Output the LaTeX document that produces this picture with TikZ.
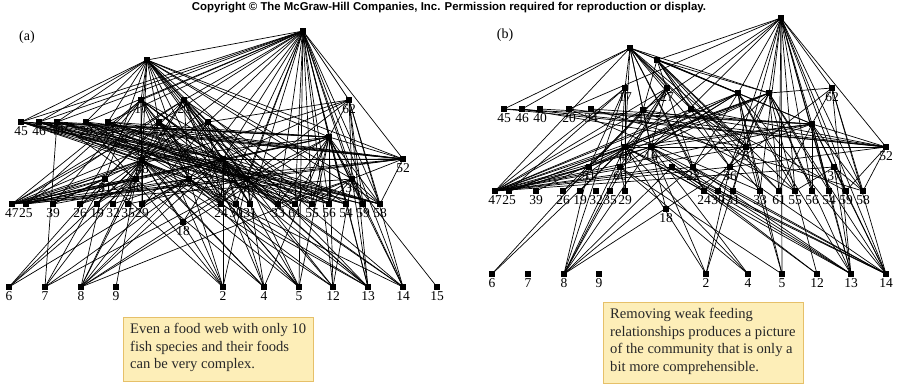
\documentclass[tikz,border=0pt]{standalone}
\usepackage{fontspec}
\setmainfont{Liberation Serif}
\newfontfamily\hdrfont{Liberation Sans}
\usetikzlibrary{backgrounds}
\definecolor{capfill}{RGB}{253,238,184}
\definecolor{capdraw}{RGB}{230,192,105}
\definecolor{captxt}{RGB}{40,40,40}
\newcommand\fwn[4]{\node[sq,label={[lab]below:#4}] (#1) at (#2,#3) {};}
\newcommand\fwm[3]{\node[sq] (#1) at (#2,#3) {};}
\newcommand\fan[2]{\foreach \tg in {#2} {\draw[edge] (#1) -- (\tg);}}
\begin{document}
\begin{tikzpicture}[x=1pt,y=-1pt,
  sq/.style={fill=black,minimum size=5.5pt,inner sep=0pt,outer sep=0pt},
  lab/.style={font=\fontsize{13.5}{13.5}\selectfont,inner sep=0.5pt,label distance=1.5pt},
  edge/.style={line width=0.7pt,black},
  capbox/.style={fill=capfill,draw=capdraw,line width=0.8pt,inner sep=0pt},
  captext/.style={font=\fontsize{14.6}{17.6}\selectfont,text=captxt,align=left,inner sep=0pt}]
\useasboundingbox (0,0) rectangle (898,389);
\node[font=\hdrfont\bfseries\fontsize{11.4}{12}\selectfont] (hdr) at (449,8) {Copyright \textcopyright{} The McGraw-Hill Companies, Inc. Permission required for reproduction or display.};
\node[font=\fontsize{14}{14}\selectfont] (lba) at (27,37) {(a)};
\node[font=\fontsize{14}{14}\selectfont] (lbb) at (505,35) {(b)};
% ---------- panel (a) nodes
\fwm{aT}{303}{31}
\fwm{aP}{147}{60}
\fwn{a17}{141}{100}{17}
\fwn{a27}{184}{100}{27}
\fwn{a62}{349}{100}{62}
\fwn{a45}{21}{122}{45}
\fwn{a46}{39}{122}{46}
\fwn{a40}{57}{122}{40}
\fwn{a20}{86}{122}{20}
\fwn{a34}{108}{122}{34}
\fwn{a42}{159}{122}{42}
\fwm{a43}{208}{122}
\fwm{aH}{329}{137}
\fwn{a52}{403}{159}{52}
\fwn{a48}{142}{160}{48}
\fwn{a16}{223}{159}{16}
\fwn{a51}{105}{179}{51}
\fwn{a60}{136}{179}{60}
\fwm{a22}{189}{179}
\fwn{a36}{247}{179}{36}
\fwn{a37}{352}{179}{37}
\fwn{a47}{12}{204}{47}
\fwn{a25}{26}{204}{25}
\fwn{a39}{53}{204}{39}
\fwn{a26}{80}{204}{26}
\fwn{a19}{97}{204}{19}
\fwn{a32}{113}{204}{32}
\fwn{a35}{128}{204}{35}
\fwn{a29}{142}{204}{29}
\fwn{a24}{221}{204}{24}
\fwn{a30}{236}{204}{30}
\fwn{a31}{250}{204}{31}
\fwn{a33}{278}{204}{33}
\fwn{a61}{295}{204}{61}
\fwn{a55}{312}{204}{55}
\fwn{a56}{329}{204}{56}
\fwn{a54}{346}{204}{54}
\fwn{a59}{363}{204}{59}
\fwn{a58}{380}{204}{58}
\fwn{a18}{183}{222}{18}
\fwn{a6}{9}{287}{6}
\fwn{a7}{45}{287}{7}
\fwn{a8}{81}{287}{8}
\fwn{a9}{116}{287}{9}
\fwn{a2}{223}{287}{2}
\fwn{a4}{264}{287}{4}
\fwn{a5}{299}{287}{5}
\fwn{a12}{333}{287}{12}
\fwn{a13}{368}{287}{13}
\fwn{a14}{403}{287}{14}
\fwn{a15}{437}{287}{15}
% ---------- panel (b) nodes
\fwm{bT}{781}{18}
\fwm{bP}{630}{48}
\fwm{bQ}{657}{60}
\fwn{b17}{625}{88}{17}
\fwn{b27}{667}{88}{27}
\fwn{b62}{832}{88}{62}
\fwm{bM1}{738}{93}
\fwm{bM2}{769}{93}
\fwn{b45}{504}{109}{45}
\fwn{b46}{522}{109}{46}
\fwn{b40}{540}{109}{40}
\fwn{b20}{569}{109}{20}
\fwn{b34}{591}{109}{34}
\fwn{b42}{643}{110}{42}
\fwm{b43}{691}{109}
\fwm{bH}{812}{124}
\fwn{b48}{625}{147}{48}
\fwn{b16}{651}{147}{16}
\fwn{b53}{746}{147}{5}
\fwn{b52}{886}{147}{52}
\fwn{b51}{589}{167}{51}
\fwn{b60}{620}{167}{60}
\fwm{bX}{672}{167}
\fwn{b22}{693}{167}{22}
\fwn{b36}{730}{167}{36}
\fwn{b37}{834}{167}{37}
\fwn{b47}{495}{191}{47}
\fwn{b25}{509}{191}{25}
\fwn{b39}{536}{191}{39}
\fwn{b26}{563}{191}{26}
\fwn{b19}{580}{191}{19}
\fwn{b32}{596}{191}{32}
\fwn{b35}{610}{191}{35}
\fwn{b29}{625}{191}{29}
\fwn{b24}{704}{191}{24}
\fwn{b30}{718}{191}{30}
\fwn{b31}{733}{191}{31}
\fwn{b33}{760}{191}{33}
\fwn{b61}{779}{191}{61}
\fwn{b55}{795}{191}{55}
\fwn{b56}{812}{191}{56}
\fwn{b54}{829}{191}{54}
\fwn{b59}{846}{191}{59}
\fwn{b58}{863}{191}{58}
\fwn{b18}{666}{209}{18}
\fwn{b6}{492}{274}{6}
\fwn{b7}{528}{274}{7}
\fwn{b8}{564}{274}{8}
\fwn{b9}{599}{274}{9}
\fwn{b2}{706}{274}{2}
\fwn{b4}{748}{274}{4}
\fwn{b5}{782}{274}{5}
\fwn{b12}{817}{274}{12}
\fwn{b13}{851}{274}{13}
\fwn{b14}{886}{274}{14}
% ---------- edges
\begin{pgfonlayer}{background}
% panel (a)
\fan{aT}{a45,a46,a40,a20,a34,aP,a17,a27,a42,a43,a48,a16,a22,a36,aH,a62,a52,a37,a24,a30,a31,a33,a61,a55,a56,a54,a59,a58,a13,a14,a12,a5}
\fan{aP}{a45,a46,a40,a20,a34,a17,a27,a42,a43,a48,a16,a51,a60,a22,a36,aH,a52,a37,a24,a31,a33,a55,a58}
\fan{a17}{a47,a25,a39,a26,a48,a16,a22,a36,a29,a24,a33,a56,a2,a5}
\fan{a27}{a47,a25,a51,a60,a48,a16,a22,a36,a24,a31,a61,a54,a4,a12}
\fan{a62}{a43,aH,a16,a36,a37,a58,a59,a13,a14,a47}
\fan{a45}{a48,a16,a36,aH,a52,a58,a55,a22,a59,a54}
\fan{a46}{a48,a16,a22,aH,a52,a56,a54,a58,a61}
\fan{a40}{a60,a16,a36,a52,a59,a61,a7,aH,a58}
\fan{a20}{a48,a22,a36,a52,a58,a31,a2,a55,a56}
\fan{a34}{a16,a22,a36,aH,a52,a33,a4,a58,a54}
\fan{a42}{a47,a51,a60,a22,a36,a30,a55,a5,a13}
\fan{a43}{a47,a48,a36,a24,a61,a56,a13,a14,a8}
\fan{aH}{a47,a25,a48,a16,a36,a37,a52,a33,a61,a55,a56,a54,a59,a58,a13,a14,a12,a5,a4,a8}
\fan{a52}{a48,a16,a22,a36,a37,a58,a47}
\fan{a48}{a47,a25,a39,a26,a19,a32,a35,a29,a18,a2,a4,a5,a12,a13,a14,a8,a7,a6}
\fan{a16}{a47,a25,a26,a29,a24,a30,a31,a33,a18,a2,a4,a5,a12,a13,a14,a8,a7}
\fan{a51}{a47,a25,a39,a6,a8,a7,a2}
\fan{a60}{a47,a25,a26,a19,a6,a8,a9,a4}
\fan{a22}{a47,a39,a32,a29,a24,a30,a2,a5,a12,a13,a8,a6}
\fan{a36}{a47,a25,a35,a24,a31,a61,a2,a4,a5,a13,a14,a8,a7}
\fan{a37}{a47,a33,a55,a56,a58,a12,a13,a14,a15,a8}
% panel (b)
\fan{bT}{bQ,bM1,bM2,b62,bH,b52,b42,b20,b53,b16,b48,b36,b61,b5,b55,b56,b54,b59,b58,b33,b13,b14}
\fan{bP}{b45,b46,b17,b27,b42,bM1,bM2,b43,b53,bH,b48,b16,b22,b36,b47,b61,b24}
\fan{bQ}{bM1,bM2,b42,b43,bH,b53,b22,b36,b33,b61,b55}
\fan{b17}{b47,b25,b48,b60,b51,b29,b8}
\fan{b27}{b47,b48,b16,b51,b60,b8,b26}
\fan{b62}{bM2,bH,b36,b58,b14,b13}
\fan{bM1}{b47,b48,b16,b51,b60,b22,b53,b33,b55,b13,b14,b5}
\fan{bM2}{b47,b25,b48,b16,b51,b22,b36,b53,b61,b56,b54,b12,b13,b14}
\fan{b45}{bH,b52}
\fan{b46}{b52,b53}
\fan{b40}{bH}
\fan{b20}{b52,b33}
\fan{b34}{bH,b58}
\fan{b42}{b47,b51,b16,b52,b55}
\fan{b43}{b47,b53,b52,b59}
\fan{bH}{b47,b48,b16,b53,b52,b58,b59,b54,b61,b56,b13,b14}
\fan{b52}{b48,b16,b36,b58,b59}
\fan{b48}{b47,b25,b39,b26,b19,b8,b6,b2,b4,b13,b14,b24}
\fan{b16}{b47,b25,b8,b18,b4,b12,b13,b14,b2}
\fan{b53}{b47,b24,b31,b2,b5}
\fan{b51}{b47,b25,b8,b6}
\fan{b60}{b47,b8,b29,b4,b5}
\fan{bX}{b47,b8,b13,b14,b12}
\fan{b22}{b47,b8,b24,b13,b14}
\fan{b36}{b47,b8,b30,b2,b14}
\fan{b37}{b47,b58,b55,b14,b13}
\end{pgfonlayer}
% ---------- caption boxes
\node[capbox,minimum width=190pt,minimum height=64pt,anchor=north west] (capa) at (123,317) {};
\node[captext,anchor=north west] (capat) at (130,323) {Even a food web with only 10\\fish species and their foods\\can be very complex.};
\node[capbox,minimum width=200pt,minimum height=81pt,anchor=north west] (capb) at (603,302) {};
\node[captext,anchor=north west] (capbt) at (610,308) {Removing weak feeding\\relationships produces a picture\\of the community that is only a\\bit more comprehensible.};
\end{tikzpicture}
\end{document}
